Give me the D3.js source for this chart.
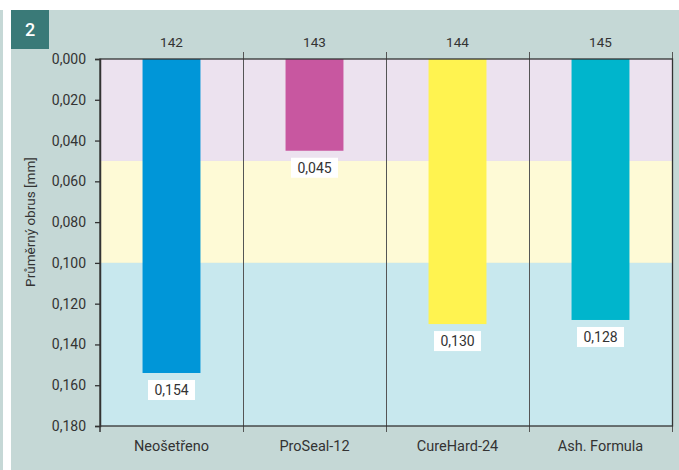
<!DOCTYPE html>
<html>
<head>
<meta charset="utf-8">
<script src="https://cdn.jsdelivr.net/npm/d3@7"></script>
<style>
  html, body { margin: 0; padding: 0; background: #fff; }
  svg { display: block; font-family: Roboto, "Liberation Sans", sans-serif; }
</style>
</head>
<body>
<svg id="chart" width="679" height="470"></svg>
<script>
// Abrasion data per treatment
const categories = ["Neošetřeno", "ProSeal-12", "CureHard-24", "Ash. Formula"];
const codes = ["142", "143", "144", "145"];
const values = [0.154, 0.045, 0.130, 0.128];
const barColors = ["#0096d8", "#c857a0", "#fff350", "#00b5cc"];
const yTicks = [0, 0.02, 0.04, 0.06, 0.08, 0.10, 0.12, 0.14, 0.16, 0.18];
const bandEdges = [0, 0.05, 0.10, 0.18];
const bandColors = ["#ece2ef", "#fefad6", "#c8e8ee"];

const svg = d3.select("#chart");
const W = 679, H = 470;
const m = { left: 100, right: 7, top: 59, bottom: 44 };
const iw = W - m.left - m.right, ih = H - m.top - m.bottom;

// Background panel and strip
svg.append("rect").attr("x", 0).attr("y", 10).attr("width", 3).attr("height", H - 10).attr("fill", "#c5d8d6");
svg.append("rect").attr("x", 11).attr("y", 10).attr("width", W - 11).attr("height", H - 10).attr("fill", "#c5d8d6");

// Figure number badge
svg.append("rect").attr("x", 11).attr("y", 10).attr("width", 38).attr("height", 39).attr("fill", "#3a7a78");
svg.append("text").attr("x", 30).attr("y", 30).attr("dy", "0.36em").attr("text-anchor", "middle")
  .attr("fill", "#fff").attr("font-size", 18).attr("font-weight", 500).text("2");

const fmt = v => d3.format(".3f")(v).replace(".", ",");

const x = d3.scaleBand().domain(categories).range([0, iw]).paddingInner(0).paddingOuter(0);
const y = d3.scaleLinear().domain([0, 0.18]).range([0, ih]);

const g = svg.append("g").attr("transform", `translate(${m.left},${m.top})`);

// Shaded value bands
g.selectAll("rect.band").data(bandColors).join("rect")
  .attr("class", "band")
  .attr("x", 0).attr("width", iw)
  .attr("y", (d, i) => y(bandEdges[i]))
  .attr("height", (d, i) => y(bandEdges[i + 1]) - y(bandEdges[i]))
  .attr("fill", d => d);

// Bars hanging from the top axis
const bw = x.bandwidth() * 0.405;
g.selectAll("rect.bar").data(values).join("rect")
  .attr("class", "bar")
  .attr("x", (d, i) => x(categories[i]) + (x.bandwidth() - bw) / 2)
  .attr("width", bw)
  .attr("y", y(0))
  .attr("height", d => y(d) - y(0))
  .attr("fill", (d, i) => barColors[i]);

// Category separators
g.selectAll("line.sep").data(categories.slice(1)).join("line")
  .attr("class", "sep")
  .attr("x1", d => x(d) + 0.5).attr("x2", d => x(d) + 0.5)
  .attr("y1", -7).attr("y2", ih + 6)
  .attr("stroke", "#555").attr("stroke-width", 1);

// Right edge tick marks
g.append("line").attr("x1", iw + 0.5).attr("x2", iw + 0.5).attr("y1", -7).attr("y2", ih + 6)
  .attr("stroke", "#555").attr("stroke-width", 1);
g.append("line").attr("x1", 0).attr("x2", 0).attr("y1", ih).attr("y2", ih + 6)
  .attr("stroke", "#333").attr("stroke-width", 1.5);

// Frame
g.append("rect").attr("x", 0).attr("y", 0).attr("width", iw + 0.5).attr("height", ih)
  .attr("fill", "none").attr("stroke", "#333").attr("stroke-width", 1.3);

// Value labels below each bar
const lbl = g.selectAll("g.lbl").data(values).join("g").attr("class", "lbl")
  .attr("transform", (d, i) => `translate(${x(categories[i]) + x.bandwidth() / 2},${y(d) + 7})`);
lbl.append("rect").attr("x", -23.5).attr("y", 0).attr("width", 47).attr("height", 20).attr("fill", "#fff");
lbl.append("text").attr("x", 0).attr("y", 10).attr("dy", "0.36em").attr("text-anchor", "middle")
  .attr("font-size", 14).attr("fill", "#333").text(d => fmt(d));

// Left axis
const yAxis = g.append("g").call(d3.axisLeft(y).tickValues(yTicks).tickFormat(fmt).tickSize(5).tickPadding(9));
yAxis.select(".domain").attr("stroke", "#333").attr("stroke-width", 1.5);
yAxis.selectAll(".tick line").attr("stroke", "#333").attr("stroke-width", 1.3);
yAxis.selectAll(".tick text").attr("font-size", 14).attr("fill", "#333").attr("font-family", "Roboto, sans-serif");

// Top code labels
g.selectAll("text.code").data(codes).join("text").attr("class", "code")
  .attr("x", (d, i) => x(categories[i]) + x.bandwidth() / 2)
  .attr("y", -17).attr("dy", "0.36em").attr("text-anchor", "middle")
  .attr("font-size", 13.5).attr("fill", "#333").text(d => d);

// Bottom category labels
g.selectAll("text.cat").data(categories).join("text").attr("class", "cat")
  .attr("x", d => x(d) + x.bandwidth() / 2)
  .attr("y", ih + 20).attr("dy", "0.36em").attr("text-anchor", "middle")
  .attr("font-size", 14.5).attr("fill", "#333").text(d => d);

// Y axis title
svg.append("text").attr("transform", "translate(30,222) rotate(-90)")
  .attr("text-anchor", "middle").attr("dy", "0.36em")
  .attr("font-size", 13.5).attr("fill", "#333").text("Průměrný obrus [mm]");
</script>
</body>
</html>
